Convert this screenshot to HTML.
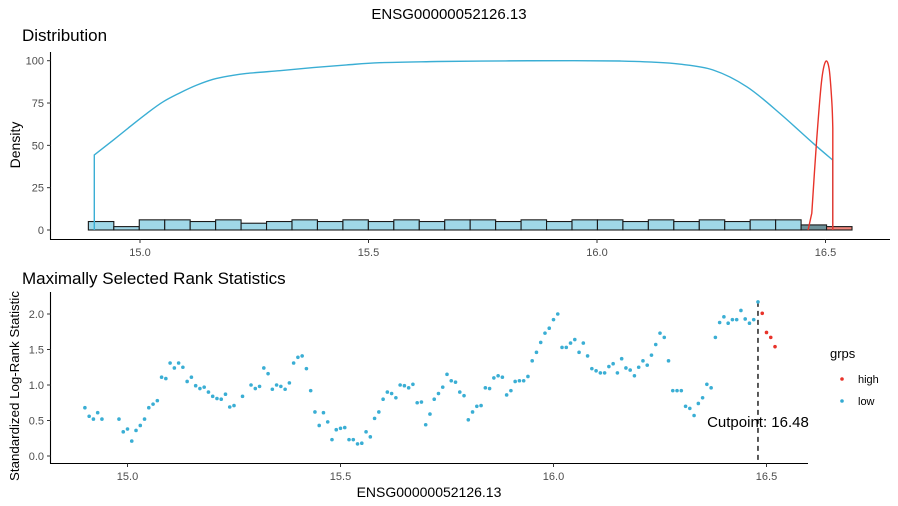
<!DOCTYPE html>
<html><head><meta charset="utf-8">
<style>
html,body{margin:0;padding:0;background:#fff;}
svg{display:block;font-family:"Liberation Sans",sans-serif;}
</style></head>
<body>
<svg id="chart" width="898" height="506" viewBox="0 0 898 506">
  <text x="449" y="19" text-anchor="middle" font-size="15" fill="#000">ENSG00000052126.13</text>
  <text x="22" y="41" font-size="17" fill="#000">Distribution</text>
  <text x="22" y="284" font-size="17" fill="#000">Maximally Selected Rank Statistics</text>
  <text transform="translate(20,145) rotate(-90)" text-anchor="middle" font-size="14" fill="#000">Density</text>
  <text transform="translate(19,386) rotate(-90)" text-anchor="middle" font-size="13.3" fill="#000">Standardized Log-Rank Statistic</text>
  <text x="429" y="497" text-anchor="middle" font-size="14" fill="#000">ENSG00000052126.13</text>
  <g id="topPanel"></g>
  <g id="botPanel"></g>
  <g>
    <text x="830" y="358" font-size="13" fill="#000">grps</text>
    <circle cx="842" cy="379" r="1.8" fill="#e8332a"></circle>
    <text x="858" y="383" font-size="11" fill="#000">high</text>
    <circle cx="842" cy="401" r="1.8" fill="#33aad2"></circle>
    <text x="858" y="405" font-size="11" fill="#000">low</text>
  </g>
</svg>
<script>
// ---- data: distribution panel ----
const histStart = 14.887;
const histWidth = 0.0557;
const histHeights = [5,2,6,6,5,6,4,5,6,5,6,5,6,5,6,6,5,6,5,6,6,5,6,5,6,5,6,6,3,2];
const histGroups = ['low','low','low','low','low','low','low','low','low','low','low','low','low','low','low','low','low','low','low','low','low','low','low','low','low','low','low','low','mix','high'];
const lowDensX = [14.900,14.900,14.942,14.978,15.015,15.051,15.088,15.124,15.160,15.197,15.233,15.306,15.379,15.452,15.525,15.65,15.8,15.95,16.05,16.12,16.18,16.254,16.328,16.40,16.473,16.516,16.516];
const lowDensY = [0,44.3,53.2,61,68.9,75.8,81.1,85.6,89,91.1,92.5,94.1,95.9,97.5,98.8,99.5,99.9,100,99.8,99.2,98,94.5,84.6,68.9,51.2,41.3,0];
const highDensX = [16.462,16.470,16.480,16.491,16.500,16.508,16.514,16.516,16.516];
const highDensY = [0,10,51,87,99.4,95,75,60,0];
const topYTicks = [0,25,50,75,100];
const xTicks = [15.0,15.5,16.0,16.5];
const xTickLabels = ['15.0','15.5','16.0','16.5'];
// ---- data: rank statistic panel ----
const statIdx = [0,1,2,3,4,8,9,10,11,12,13,14,15,16,17,18,19,20,21,22,23,24,25,26,27,28,29,30,31,32,33,34,35,37,39,40,41,42,43,44,45,46,47,48,49,50,51,52,53,54,55,56,57,58,59,60,61,62,63,64,65,66,67,68,69,70,71,72,73,74,75,76,77,78,79,80,81,82,83,84,85,86,87,88,89,90,91,92,93,94,95,96,97,98,99,100,101,102,103,104,105,106,107,108,109,110,111,112,113,114,115,116,117,118,119,120,121,122,123,124,125,126,127,128,129,130,131,132,133,134,135,136,137,138,139,140,141,142,143,144,145,146,147,148,149,150,151,152,153,154,155,156,157,158,159,160,161,162];
const statVals = [0.68,0.56,0.52,0.61,0.52,0.52,0.34,0.38,0.21,0.36,0.43,0.52,0.68,0.73,0.78,1.11,1.09,1.31,1.24,1.31,1.25,1.05,1.11,0.99,0.95,0.97,0.90,0.84,0.81,0.80,0.87,0.69,0.71,0.84,1.00,0.95,0.98,1.24,1.16,0.94,1.00,0.98,0.94,1.03,1.31,1.39,1.41,1.23,0.92,0.62,0.43,0.61,0.48,0.23,0.37,0.39,0.40,0.23,0.23,0.17,0.18,0.34,0.27,0.53,0.62,0.80,0.90,0.88,0.82,1.00,0.99,0.96,1.01,0.75,0.76,0.44,0.59,0.80,0.88,0.97,1.15,1.06,1.04,0.90,0.85,0.51,0.62,0.70,0.71,0.96,0.95,1.10,1.13,1.11,0.86,0.92,1.05,1.06,1.06,1.12,1.34,1.46,1.60,1.73,1.80,1.92,2.00,1.53,1.53,1.59,1.64,1.46,1.59,1.41,1.23,1.20,1.17,1.17,1.26,1.30,1.17,1.37,1.24,1.21,1.13,1.25,1.34,1.28,1.42,1.57,1.73,1.67,1.34,0.92,0.92,0.92,0.70,0.67,0.57,0.74,0.82,1.01,0.96,1.67,1.88,1.96,1.87,1.92,1.92,2.05,1.93,1.87,1.92,2.17,2.01,1.74,1.67,1.54];
const statXStart = 14.90;
const statXStep = 0.01;
const cutpoint = 16.48;
const botYTicks = [0,0.5,1.0,1.5,2.0];
const botYTickLabels = ['0.0','0.5','1.0','1.5','2.0'];

const NS='http://www.w3.org/2000/svg';
function mk(parent,tag,attrs){const e=document.createElementNS(NS,tag);for(const k in attrs)e.setAttribute(k,attrs[k]);parent.appendChild(e);return e;}
const BLUE='#3aaed4', RED='#e8332a';

const tx = v => 140 + (v-15)*457;
const ty = v => 230 - v*1.693;
const bx = v => 127.5 + (v-15)*426;
const by = v => 456 - v*71;

// smooth path: straight first & last segments (vertical edges), Catmull-Rom inside
function smoothPath(xs,ys){
  const p=xs.map((x,i)=>[tx(x),ty(ys[i])]);
  let d='M'+p[0][0].toFixed(1)+','+p[0][1].toFixed(1)+'L'+p[1][0].toFixed(1)+','+p[1][1].toFixed(1);
  const n=p.length;
  for(let i=1;i<n-2;i++){
    const p0=p[Math.max(1,i-1)],p1=p[i],p2=p[i+1],p3=p[Math.min(n-2,i+2)];
    const c1=[p1[0]+(p2[0]-p0[0])/6,p1[1]+(p2[1]-p0[1])/6];
    const c2=[p2[0]-(p3[0]-p1[0])/6,p2[1]-(p3[1]-p1[1])/6];
    d+='C'+c1[0].toFixed(1)+','+c1[1].toFixed(1)+' '+c2[0].toFixed(1)+','+c2[1].toFixed(1)+' '+p2[0].toFixed(1)+','+p2[1].toFixed(1);
  }
  d+='L'+p[n-1][0].toFixed(1)+','+p[n-1][1].toFixed(1);
  return d;
}

const topG=document.getElementById('topPanel');
histHeights.forEach((h,i)=>{
  const x0=tx(histStart+i*histWidth), x1=tx(histStart+(i+1)*histWidth);
  const g=histGroups[i];
  const fill = g==='low' ? '#a0d8e8' : (g==='mix' ? '#6e929a' : '#f0867c');
  const r=mk(topG,'rect',{x:x0,y:ty(h),width:x1-x0,height:ty(0)-ty(h),fill:fill,stroke:'#1a1a1a','stroke-width':1.1});
  
  
});
const lowPath=mk(topG,'path',{d:smoothPath(lowDensX,lowDensY),fill:'none',stroke:BLUE,'stroke-width':1.4});


const highPath=mk(topG,'path',{d:smoothPath(highDensX,highDensY),fill:'none',stroke:RED,'stroke-width':1.4});


const tyAxis=mk(topG,'line',{x1:50.5,y1:52,x2:50.5,y2:239.5,stroke:'#000','stroke-width':1.1});


const txAxis=mk(topG,'line',{x1:50,y1:239.5,x2:890,y2:239.5,stroke:'#000','stroke-width':1.1});


topYTicks.forEach(v=>{
  mk(topG,'line',{x1:47,x2:50.5,y1:ty(v),y2:ty(v),stroke:'#333'});
  const t=mk(topG,'text',{x:44,y:ty(v)+4,'text-anchor':'end','font-size':11,fill:'#4d4d4d'});
  t.textContent=String(v);
  
  
});
xTicks.forEach((v,i)=>{
  mk(topG,'line',{x1:tx(v),x2:tx(v),y1:239.5,y2:243,stroke:'#333'});
  const t=mk(topG,'text',{x:tx(v),y:256,'text-anchor':'middle','font-size':11,fill:'#4d4d4d'});
  t.textContent=xTickLabels[i];
  
  
});

const botG=document.getElementById('botPanel');
const maxStat=Math.max(...statVals);
const cut=mk(botG,'line',{x1:bx(cutpoint),x2:bx(cutpoint),y1:by(maxStat),y2:463,stroke:'#000','stroke-width':1.3,'stroke-dasharray':'5,4'});


statIdx.forEach((k,i)=>{
  const xv=statXStart+k*statXStep;
  const c=mk(botG,'circle',{cx:bx(xv),cy:by(statVals[i]),r:1.8,fill: xv>cutpoint+1e-9?RED:BLUE});
  
  
});
const lbl=mk(botG,'text',{x:bx(cutpoint),y:427,'text-anchor':'middle','font-size':15,fill:'#000'});
lbl.textContent='Cutpoint: '+cutpoint.toFixed(2);


const byAxis=mk(botG,'line',{x1:50.5,y1:292,x2:50.5,y2:463.5,stroke:'#000','stroke-width':1.1});


const bxAxis=mk(botG,'line',{x1:50,y1:463.5,x2:808,y2:463.5,stroke:'#000','stroke-width':1.1});


botYTicks.forEach((v,i)=>{
  mk(botG,'line',{x1:47,x2:50.5,y1:by(v),y2:by(v),stroke:'#333'});
  const t=mk(botG,'text',{x:44,y:by(v)+4,'text-anchor':'end','font-size':11,fill:'#4d4d4d'});
  t.textContent=botYTickLabels[i];
  
  
});
xTicks.forEach((v,i)=>{
  mk(botG,'line',{x1:bx(v),x2:bx(v),y1:463.5,y2:467,stroke:'#333'});
  const t=mk(botG,'text',{x:bx(v),y:480,'text-anchor':'middle','font-size':11,fill:'#4d4d4d'});
  t.textContent=xTickLabels[i];
  
  
});
</script>
</body></html>
